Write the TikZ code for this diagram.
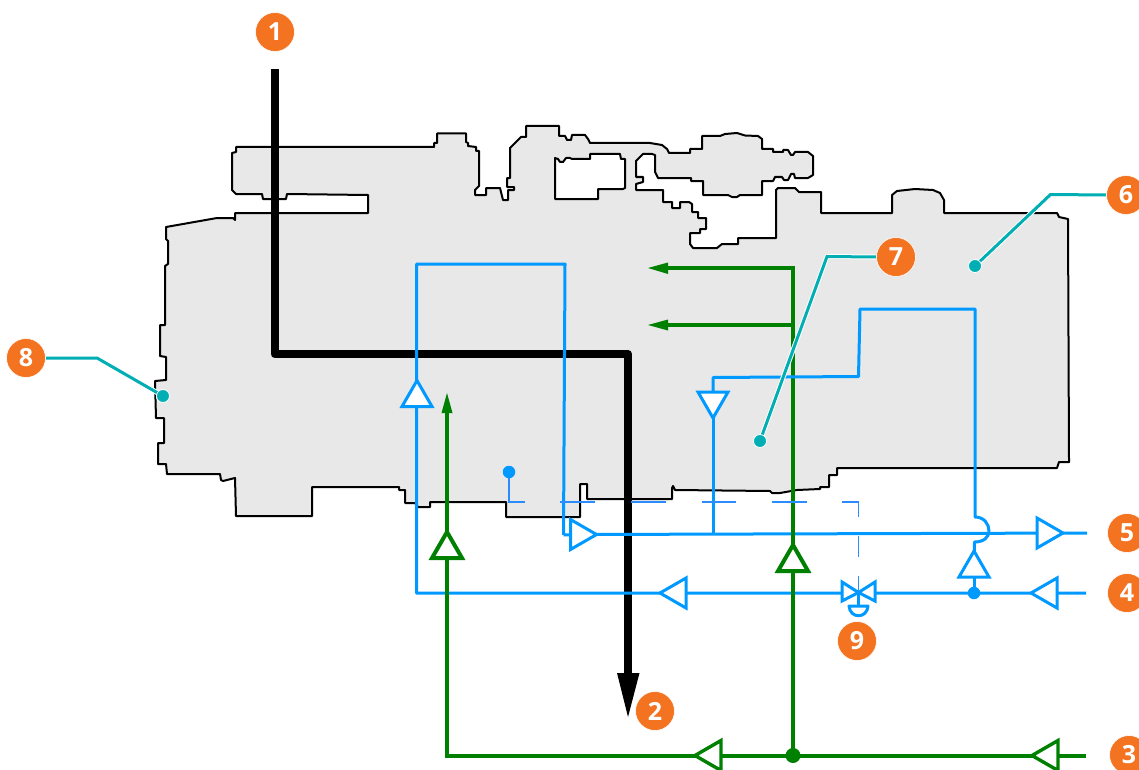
\documentclass[tikz,border=0pt]{standalone}
\usepackage{fontspec}
\setmainfont{Open Sans}
\definecolor{hullfill}{HTML}{E8E8E8}
\definecolor{bluepipe}{HTML}{0099FF}
\definecolor{ctrlblue}{HTML}{2B8CFF}
\definecolor{greenpipe}{HTML}{008000}
\definecolor{leadteal}{HTML}{00AEB3}
\definecolor{badge}{HTML}{F47321}
\tikzset{
  hull/.style={draw=black,line width=2pt,fill=hullfill,line join=round},
  blackpipe/.style={draw=black,line width=8pt,line join=round},
  bluep/.style={draw=bluepipe,line width=3pt,line join=round},
  greenp/.style={draw=greenpipe,line width=4pt,line join=miter},
  ctrl/.style={draw=ctrlblue,line width=1.8pt,line join=miter},
  leader/.style={draw=leadteal,line width=3pt,line join=miter,preaction={draw=white,line width=5pt}},
  badgenode/.style={circle,fill=badge,draw=white,line width=.6pt,minimum size=39pt,inner sep=0pt,text=white,font=\fontsize{25}{25}\selectfont\bfseries},
  tealdot/.style={circle,fill=leadteal,draw=white,line width=.8pt,minimum size=13pt,inner sep=0pt},
  bluedot/.style={circle,fill=bluepipe,minimum size=12.5pt,inner sep=0pt},
  greendot/.style={circle,fill=greenpipe,minimum size=15pt,inner sep=0pt},
  pics/tri/.style 2 args={code={\draw[line width=#2,fill=white,line join=miter,draw=#1] (-13,-15) -- (13,0) -- (-13,15) -- cycle;}}
}
\begin{document}
\begin{tikzpicture}[x=1pt,y=-1pt]
\clip (0,0) rectangle (1139,770);
% machine outline
\draw[hull] (236,147) -- (434,147) -- (434,143) -- (437,143) -- (437,133.5) -- (466,133.5) -- (466,142) -- (468,143) -- (468,146) -- (476,147) -- (476,151) -- (479,151) -- (479,186) -- (475,190) -- (475,195) -- (486,195) -- (486,188) -- (500,188) -- (503,200) -- (508,200) -- (508,190) -- (514,190) -- (514,187) -- (507,187) -- (507,178) -- (510,178) -- (510,148) -- (521,137) -- (526,137) -- (526,126) -- (559,126) -- (559,136) -- (565,136) -- (567,140) -- (571,140) -- (572,135) -- (585,135) -- (588,139) -- (590,143) -- (650,143) -- (662,145) -- (667,149) -- (669,153) -- (690,153) -- (690,149) -- (702,149) -- (702,136) -- (720,136) -- (725,134) -- (737,133) -- (745,135.5) -- (758,136) -- (762,139) -- (762,149) -- (773,149) -- (773,152) -- (783,152) -- (783,150) -- (788,150) -- (791,155) -- (793,155) -- (795,152) -- (808,152) -- (813,156) -- (813,175) -- (808,178) -- (795,178) -- (794,174) -- (791,174) -- (788,180) -- (784,180) -- (782,177) -- (775,177) -- (773,181) -- (762,181) -- (762,195) -- (740,195) -- (737,197) -- (732,197) -- (728,195) -- (703,195) -- (703,181) -- (691,181) -- (691,178) -- (658,178) -- (655,172) -- (655,155) -- (652,154) -- (643,154) -- (636,161) -- (636,177) -- (643,177) -- (643,182) -- (636,184) -- (636,190) -- (663,190) -- (663,202) -- (672,202) -- (672,208) -- (680,208) -- (680,202) -- (689,202) -- (692,204) -- (692,212) -- (698,212) -- (698,218) -- (706,218) -- (706,229) -- (700,229) -- (700,233) -- (690,233) -- (690,244) -- (693,248) -- (717,248) -- (722,244) -- (738,244) -- (738,238) -- (776,238) -- (776,190) -- (778,188) -- (795,188) -- (799,192) -- (821,192) -- (821,213) -- (892,213) -- (892,195) -- (897,191) -- (915,189) -- (933,190) -- (940,193) -- (944,200) -- (944,213) -- (1057,213) -- (1059,217) -- (1068,219) -- (1069,462) -- (1059,462) -- (1057,468) -- (837,468) -- (837,475) -- (829,475) -- (829,487) -- (820,487) -- (820,489) -- (797,490) -- (780,493) -- (772,493) -- (770,491) -- (675,490) -- (673,486) -- (672,488) -- (672,499) -- (587,499) -- (587,484) -- (580,484) -- (580,517) -- (506,517) -- (506,502) -- (430,502) -- (430,507) -- (418,507) -- (415,503) -- (405,503) -- (405,490) -- (399,490) -- (399,487) -- (312,487) -- (312,516) -- (236,516) -- (235,478) -- (223,481) -- (221,480) -- (220,474) -- (167,474) -- (166,464) -- (158,464) -- (158,443) -- (164,443) -- (164,418) -- (156,418) -- (155,381) -- (166,380) -- (166,357) -- (160,356) -- (160,325) -- (165,325) -- (165,266) -- (168,264) -- (168,241) -- (166,239) -- (166,227) -- (217,218) -- (233,218) -- (235,220) -- (235,213) -- (368,213) -- (368,195) -- (287,194) -- (286,199) -- (263,199) -- (262,194) -- (236,194) -- (232,190) -- (232,153) -- (236,152) -- cycle;
\draw[draw=black,line width=2pt,fill=white,line join=round] (555,158) -- (558,159) -- (560,162) -- (563,162) -- (566,158) -- (570,158) -- (572,159) -- (590,159) -- (590,154) -- (620,154) -- (621,159) -- (625,159) -- (625,188) -- (623,189) -- (598,189) -- (598,199) -- (555,199) -- cycle;

% named points
\coordinate (inA) at (274.5,69);
\coordinate (bA) at (274.5,354);
\coordinate (bB) at (628,354);
\coordinate (bC) at (628,680);
\coordinate (bl1) at (416.5,264);
\coordinate (bl2) at (565,264);
\coordinate (bl3) at (563.5,535);
\coordinate (bl4) at (416.5,593);
\coordinate (e5) at (1087,533);
\coordinate (e4) at (1086,593);
\coordinate (e3) at (1086,755.5);
\coordinate (t5l) at (583.5,534.5);
\coordinate (t5r) at (1050,533);
\coordinate (t4l) at (673,593);
\coordinate (t4r) at (1044,593);
\coordinate (tup) at (417,393.5);
\coordinate (tdn) at (713,405);
\coordinate (tj) at (974,564);
\coordinate (v5) at (713,534);
\coordinate (u1) at (975,309);
\coordinate (u2) at (860,309);
\coordinate (u3) at (858.5,376.5);
\coordinate (u4) at (713,377.5);
\coordinate (u5) at (975,517);
\coordinate (g1) at (447,755.5);
\coordinate (g2) at (447,405);
\coordinate (g3) at (793,268);
\coordinate (g4) at (793,325);
\coordinate (g5) at (660,268);
\coordinate (g6) at (660,325);
\coordinate (tg1) at (708,755.5);
\coordinate (tg2) at (1045,755.5);
\coordinate (tg3) at (447,545);
\coordinate (tg4) at (793,558);
\coordinate (valve) at (858.5,592.5);
\coordinate (vstem) at (858.5,606);

% main line
\draw[blackpipe] (inA) -- (bA) -- (bB) -- (bC);
\fill[black] (617,673) -- (639.5,673) -- (628,717) -- cycle;

% lower blue lines
\draw[bluep] (bl3) -- (bl2) -- (bl1) -- (bl4) -- (e4);
\draw[bluep] (bl3) -- (t5l) -- (e5);
\draw[bluep] (v5) -- (tdn);

% green lines
\draw[greenp] (e3) -- (g1) -- (g2);
\draw[greenp] (g5) -- (g3) -- (tg4 |- e3);
\draw[greenp] (g4) -- (g6);
\fill[greenpipe] (441.5,413) -- (452.5,413) -- (447,393) -- cycle;
\fill[greenpipe] (668,262.5) -- (668,274) -- (648,268) -- cycle;
\fill[greenpipe] (668,319.5) -- (668,330.5) -- (648,325) -- cycle;
\node[greendot] (gj) at (793,755.5) {};

% upper blue branch
\draw[bluep] (tdn) -- (u4) -- (u3) -- (u2) -- (u1) -- (u5) .. controls (984,517) and (989,524) .. (989,531) .. controls (989,537) and (984,542) .. (974.5,542) -- (tj);
\draw[bluep] (tj) -- (974,593);
\node[bluedot] (bj) at (974,593) {};

% open triangles
\pic[rotate=0] at (t5l) {tri={bluepipe}{3pt}};
\pic[rotate=0] at (t5r) {tri={bluepipe}{3pt}};
\pic[rotate=180] at (t4l) {tri={bluepipe}{3pt}};
\pic[rotate=180] at (t4r) {tri={bluepipe}{3pt}};
\pic[rotate=90] at (tup) {tri={bluepipe}{3pt}};
\pic[rotate=-90] at (tdn) {tri={bluepipe}{3pt}};
\pic[rotate=90] at (tj) {tri={bluepipe}{3pt}};
\pic[rotate=180] at (tg1) {tri={greenpipe}{3.4pt}};
\pic[rotate=180] at (tg2) {tri={greenpipe}{3.4pt}};
\pic[rotate=90] at (tg3) {tri={greenpipe}{4pt}};
\pic[rotate=90] at (tg4) {tri={greenpipe}{4pt}};

% valve
\draw[bluep,fill=white,line join=miter] (842,582) -- (valve) -- (842,601) -- cycle;
\draw[bluep,fill=white,line join=miter] (875,582) -- (valve) -- (875,601) -- cycle;
\draw[bluep] (valve) -- (vstem);
\draw[bluep,line join=round] (849,606) .. controls (850,619) and (867,619) .. (868,606) -- cycle;

% control line
\node[bluedot] (ctrlsrc) at (509,472) {};
\coordinate (c1) at (509,502);
\coordinate (c2) at (858.5,502);
\draw[ctrl] (ctrlsrc) -- (c1) -- (525,502);
\draw[ctrl] (560,502) -- (595,502);
\draw[ctrl] (631,502) -- (666,502);
\draw[ctrl] (702,502) -- (736,502);
\draw[ctrl] (772,502) -- (807,502);
\draw[ctrl] (842,502) -- (c2) -- (858.5,517);
\draw[ctrl] (858.5,536) -- (858.5,557);
\draw[ctrl] (858.5,576) -- (valve);

% leaders
\node[tealdot] (d6) at (975,266) {};
\node[tealdot] (d7) at (760,441) {};
\node[tealdot] (d8) at (163,396) {};
\coordinate (e6l) at (1050.5,194.5);
\coordinate (e7l) at (827,256.5);
\coordinate (e8l) at (97,358);
\node[badgenode,minimum size=39pt,fill=none,draw=none,text=white] (p6) at (1126,195) {};
\node[badgenode,minimum size=39pt,fill=none,draw=none,text=white] (p7) at (896,257) {};
\node[badgenode,minimum size=39pt,fill=none,draw=none,text=white] (p8) at (26,358) {};
\draw[leader] (d6.center) -- (e6l) -- (p6.west);
\draw[leader] (d7.center) -- (e7l) -- (p7.west);
\draw[leader] (d8.center) -- (e8l) -- (p8.east);
\node[tealdot] at (d6) {};
\node[tealdot] at (d7) {};
\node[tealdot] at (d8) {};

% badges
\node[badgenode] (n1) at (275,32) {1};
\node[badgenode] (n2) at (655,711) {2};
\node[badgenode] (n3) at (1129,755) {3};
\node[badgenode] (n4) at (1127,593) {4};
\node[badgenode] (n5) at (1127,533) {5};
\node[badgenode] (n6) at (1126,195) {6};
\node[badgenode] (n7) at (896,257) {7};
\node[badgenode] (n8) at (26,358) {8};
\node[badgenode] (n9) at (857,641) {9};
\end{tikzpicture}
\end{document}
